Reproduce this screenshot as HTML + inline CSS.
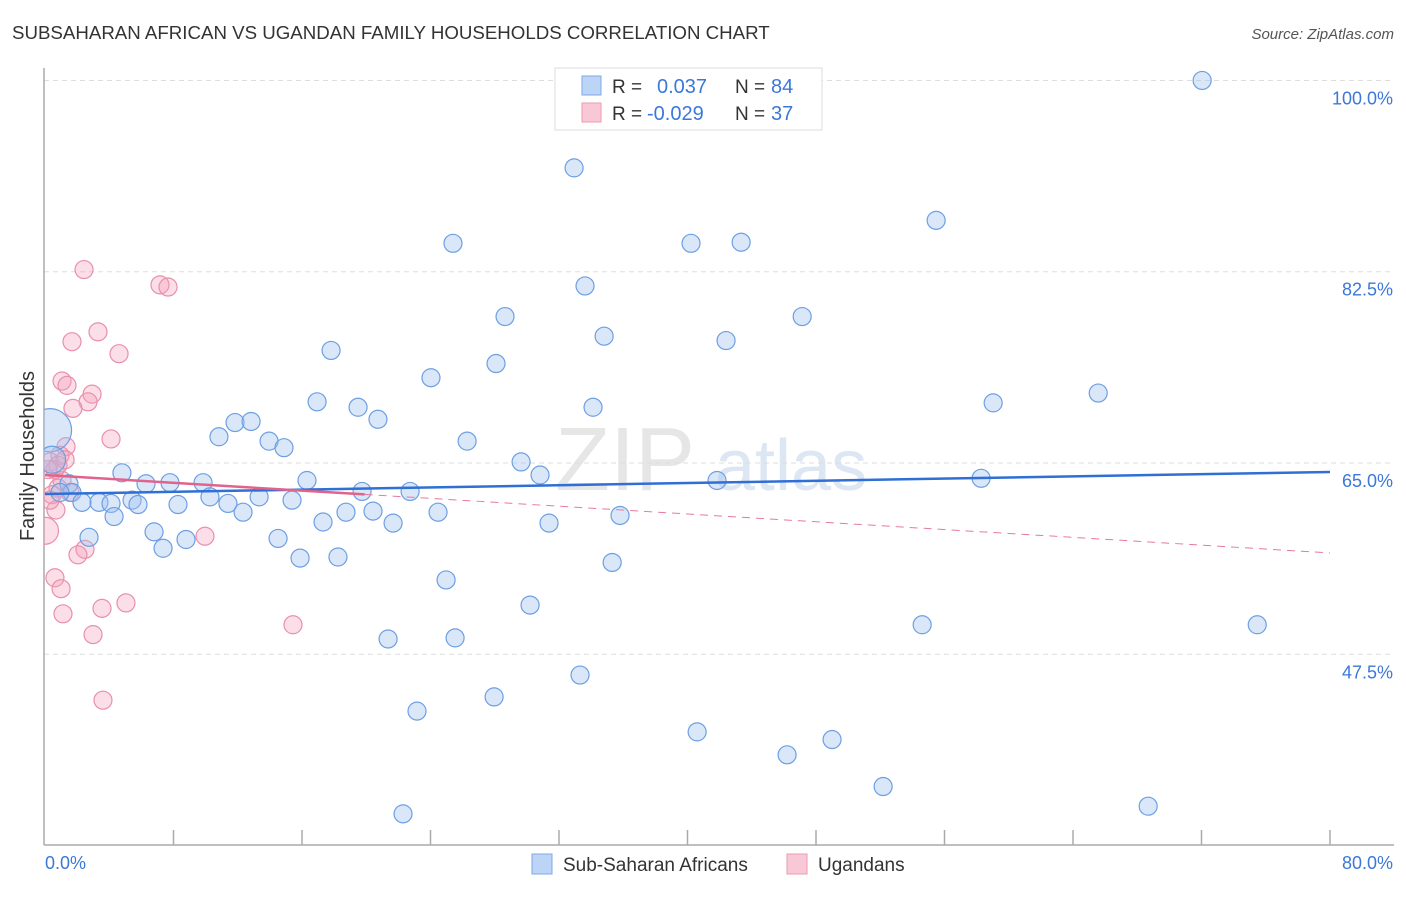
<!DOCTYPE html>
<html><head><meta charset="utf-8"><style>
body{margin:0;background:#fff;font-family:"Liberation Sans",sans-serif;}
svg text{font-family:"Liberation Sans",sans-serif;}
</style></head><body>
<svg id="chart" width="1406" height="892" xmlns="http://www.w3.org/2000/svg">
<defs><clipPath id="plotclip"><rect x="44" y="60" width="1360" height="785"/></clipPath></defs>
<text x="12" y="39" font-size="18.7" fill="#333">SUBSAHARAN AFRICAN VS UGANDAN FAMILY HOUSEHOLDS CORRELATION CHART</text>
<text x="1394" y="39" font-size="15" fill="#555" text-anchor="end" font-style="italic">Source: ZipAtlas.com</text>
<g><text x="555" y="490" font-size="90" fill="#e6e6e6" font-family="Liberation Serif" >ZIP</text><text x="715" y="490" font-size="72" fill="#dde6f3">atlas</text></g>
<g id="grid"></g>
<line x1="44" y1="68" x2="44" y2="845" stroke="#aaa" stroke-width="1.5"/>
<line x1="44" y1="845" x2="1394" y2="845" stroke="#aaa" stroke-width="1.5"/>
<g id="ticks"></g>
<g id="pts" clip-path="url(#plotclip)"></g>
<g id="trend" clip-path="url(#plotclip)"></g>
<text transform="translate(34,456) rotate(-90)" font-size="20" fill="#333" text-anchor="middle">Family Households</text>
<text x="45" y="869" font-size="18" fill="#3b78d8">0.0%</text>
<text x="1393" y="869" font-size="18" fill="#3b78d8" text-anchor="end">80.0%</text>
<g>
<rect x="555" y="68" width="267" height="62" fill="#fff" stroke="#ddd"/>
<rect x="582" y="76" width="19" height="19" fill="#bcd4f5" stroke="#7ea9e6"/>
<rect x="582" y="103" width="19" height="19" fill="#f9c8d6" stroke="#eb9ab2"/>
<text x="612" y="93" font-size="19" fill="#333">R =</text><text x="657" y="93" font-size="20" fill="#3b78d8">0.037</text>
<text x="735" y="93" font-size="19" fill="#333">N =</text><text x="771" y="93" font-size="20" fill="#3b78d8">84</text>
<text x="612" y="120" font-size="19" fill="#333">R =</text><text x="647" y="120" font-size="20" fill="#3b78d8">-0.029</text>
<text x="735" y="120" font-size="19" fill="#333">N =</text><text x="771" y="120" font-size="20" fill="#3b78d8">37</text>
</g>
<g>
<rect x="532" y="854" width="20" height="20" fill="#bcd4f5" stroke="#7ea9e6"/>
<text x="563" y="871" font-size="19" fill="#333">Sub-Saharan Africans</text>
<rect x="787" y="854" width="20" height="20" fill="#f9c8d6" stroke="#eb9ab2"/>
<text x="818" y="871" font-size="19" fill="#333">Ugandans</text>
</g>
</svg>
<script>
const yTicks=[47.5,65.0,82.5,100.0];
const yTickLabels=["47.5%","65.0%","82.5%","100.0%"];
const xTicks=[8,16,24,32,40,48,56,64,72,80];
const blueX=[72.04,32.94,55.48,25.40,40.22,43.34,33.62,28.64,47.14,34.81,42.40,17.81,28.08,24.03,65.57,16.94,34.12,59.03,19.49,20.73,11.83,12.83,10.83,26.28,13.95,14.88,29.64,4.79,30.82,16.31,6.29,7.78,9.84,41.84,58.28,19.74,22.73,1.49,1.68,10.27,13.33,15.38,5.42,5.79,3.36,4.11,2.30,8.28,11.39,12.33,18.74,20.42,24.47,4.30,17.31,21.67,31.38,35.80,6.79,2.74,8.78,14.51,7.35,15.88,18.24,35.31,24.97,30.20,54.61,75.47,21.36,25.53,33.31,27.96,23.16,40.60,46.20,49.00,52.18,68.68,22.29,0.31,0.44,0.93];
const blueY=[100.0,92.0,87.2,85.1,85.1,85.2,81.2,78.4,78.4,76.6,76.2,75.3,74.1,72.8,71.4,70.6,70.1,70.5,70.1,69.0,68.7,68.8,67.4,67.0,67.0,66.4,65.1,64.1,63.9,63.4,63.1,63.2,63.2,63.4,63.6,62.4,62.4,63.1,62.3,61.9,61.9,61.6,61.6,61.2,61.4,61.3,61.4,61.2,61.3,60.5,60.5,60.6,60.5,60.1,59.6,59.5,59.5,60.2,58.7,58.2,58.0,58.1,57.2,56.3,56.4,55.9,54.3,52.0,50.2,50.2,48.9,49.0,45.6,43.6,42.3,40.4,38.3,39.7,35.4,33.6,32.9,68.0,65.3,62.3];
const blueSize=[];blueX.forEach((_,i)=>blueSize.push(i==81?2.4:(i==82?1.5:1)));
const pinkX=[2.43,7.16,7.66,3.30,1.68,4.61,1.06,1.37,2.93,2.68,1.74,4.11,1.31,0.93,0.31,0.62,1.06,0.81,0.44,0.68,0.0,2.49,2.05,9.96,0.62,1.0,3.55,5.04,1.12,2.99,15.44,3.61,0.31,0.81,1.25,1.56,0.19];
const pinkY=[82.7,81.3,81.1,77.0,76.1,75.0,72.5,72.1,71.3,70.6,70.0,67.2,66.5,65.7,65.1,64.4,63.4,62.7,62.1,60.7,58.8,57.1,56.6,58.3,54.5,53.5,51.7,52.2,51.2,49.3,50.2,43.3,61.6,64.8,65.3,62.3,64.4];
const pinkSize=[];pinkX.forEach((_,i)=>pinkSize.push(i==20?1.5:1));
const blueTrend=[62.16,64.18];
const pinkTrend=[63.9,56.77];
const pinkSolidEnd=19.9;
const NS="http://www.w3.org/2000/svg";
const X=v=>45+v*16.0625, Y=v=>463-(v-65)*10.93;
function mk(t,a,p){const e=document.createElementNS(NS,t);for(const k in a)e.setAttribute(k,a[k]);p.appendChild(e);return e;}
const grid=document.getElementById('grid');
yTicks.forEach((v,i)=>{
 const l=mk('line',{x1:44,x2:1394,y1:Y(v),y2:Y(v),stroke:'#ddd','stroke-dasharray':'5,4'},grid);
 
 
 const t=mk('text',{x:1393,y:Y(v)+24,'font-size':18,fill:'#3b78d8','text-anchor':'end'},grid);
 t.textContent=yTickLabels[i];
 
 
});
const tk=document.getElementById('ticks');
xTicks.forEach(v=>{
 const l=mk('line',{x1:X(v),x2:X(v),y1:830,y2:845,stroke:'#aaa','stroke-width':1.5},tk);
 
 
});
const pts=document.getElementById('pts');
pinkX.forEach((x,i)=>{
 const c=mk('circle',{cx:X(x),cy:Y(pinkY[i]),r:9*pinkSize[i],fill:'rgba(244,160,186,0.35)',stroke:'#e890ab','stroke-width':1.2},pts);
 
 
});
blueX.forEach((x,i)=>{
 const c=mk('circle',{cx:X(x),cy:Y(blueY[i]),r:9*blueSize[i],fill:'rgba(160,195,240,0.4)',stroke:'#6d9fe3','stroke-width':1.2},pts);
 
 
});
const tr=document.getElementById('trend');
const pAt=v=>pinkTrend[0]+(pinkTrend[1]-pinkTrend[0])*v/80;
let l=mk('line',{x1:X(0),y1:Y(blueTrend[0]),x2:X(80),y2:Y(blueTrend[1]),stroke:'#2f6fd6','stroke-width':2.5},tr);


l=mk('line',{x1:X(pinkSolidEnd),y1:Y(pAt(pinkSolidEnd)),x2:X(80),y2:Y(pinkTrend[1]),stroke:'#e77a9c','stroke-width':1,'stroke-dasharray':'8,6'},tr);


l=mk('line',{x1:X(0),y1:Y(pinkTrend[0]),x2:X(pinkSolidEnd),y2:Y(pAt(pinkSolidEnd)),stroke:'#e0638b','stroke-width':2.5},tr);


</script>
</body></html>
